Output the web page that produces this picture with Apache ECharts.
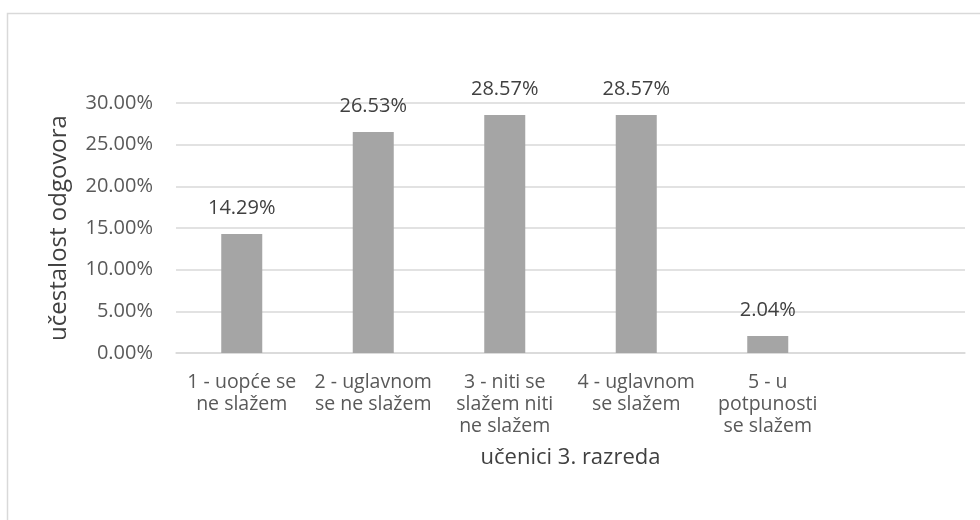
<!DOCTYPE html>
<html>
<head>
<meta charset="utf-8">
<script src="https://cdn.jsdelivr.net/npm/echarts@6/dist/echarts.min.js"></script>
<style>
  html, body { margin: 0; padding: 0; background: #ffffff; }
  #chart { width: 980px; height: 520px; }
</style>
</head>
<body>
<div id="chart"></div>
<script>
// Answer categories (the last slot is intentionally empty)
const categories = [
  '1 - uopće se\nne slažem',
  '2 - uglavnom\nse ne slažem',
  '3 - niti se\nslažem niti\nne slažem',
  '4 - uglavnom\nse slažem',
  '5 - u\npotpunosti\nse slažem',
  ''
];
// Share of answers, in percent
const shares = [14.29, 26.53, 28.57, 28.57, 2.04, null];
const yTicks = { min: 0, max: 30, step: 5 };
const xTitle = 'učenici 3. razreda';
const yTitle = 'učestalost odgovora';

const FONT = '"Open Sans", "Noto Sans", sans-serif';

const chart = echarts.init(document.getElementById('chart'), null, { renderer: 'canvas' });
chart.setOption({
  backgroundColor: '#ffffff',
  animation: false,
  textStyle: { fontFamily: FONT },
  graphic: [{
    type: 'rect',
    shape: { x: 7.5, y: 13.5, width: 1200, height: 800 },
    style: { fill: 'none', stroke: '#d9d9d9', lineWidth: 1.5 },
    silent: true
  }],
  grid: { left: 176, right: 15, top: 103, bottom: 167, containLabel: false },
  xAxis: {
    type: 'category',
    data: categories,
    name: xTitle,
    nameLocation: 'middle',
    nameGap: 94,
    nameTextStyle: { fontFamily: FONT, fontSize: 22, color: '#404040' },
    axisLine: { lineStyle: { color: '#d9d9d9', width: 1.5 } },
    axisTick: { show: false },
    axisLabel: {
      interval: 0,
      margin: 18,
      fontFamily: FONT,
      fontSize: 19.5,
      lineHeight: 22,
      color: '#595959',
      align: 'center'
    }
  },
  yAxis: {
    type: 'value',
    min: yTicks.min,
    max: yTicks.max,
    interval: yTicks.step,
    name: yTitle,
    nameLocation: 'middle',
    nameGap: 105,
    nameRotate: 90,
    nameTextStyle: { fontFamily: FONT, fontSize: 24, color: '#404040' },
    axisLine: { show: false },
    axisTick: { show: false },
    splitLine: { lineStyle: { color: '#d9d9d9', width: 1.5 } },
    axisLabel: {
      margin: 23,
      fontFamily: FONT,
      fontSize: 20,
      color: '#595959',
      formatter: v => v.toFixed(2) + '%'
    }
  },
  series: [{
    type: 'bar',
    data: shares,
    barWidth: 41,
    itemStyle: { color: '#a5a5a5' },
    label: {
      show: true,
      position: 'top',
      distance: 16,
      fontFamily: FONT,
      fontSize: 20,
      color: '#404040',
      formatter: p => p.value == null ? '' : p.value.toFixed(2) + '%'
    }
  }]
});
</script>
</body>
</html>
